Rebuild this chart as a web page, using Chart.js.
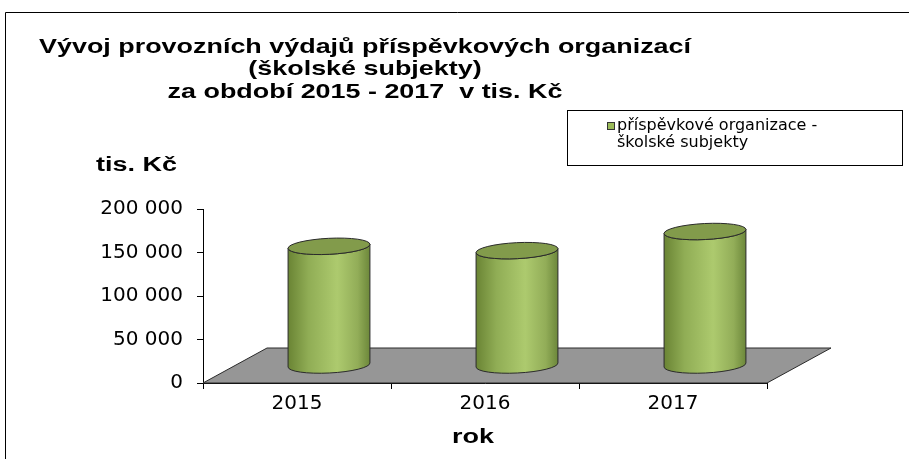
<!DOCTYPE html>
<html>
<head>
<meta charset="utf-8">
<script src="https://cdn.jsdelivr.net/npm/chart.js@4"></script>
<style>
  body { margin: 0; background: #fff; }
  canvas { display: block; }
</style>
</head>
<body>
<canvas id="vydaje" width="909" height="459"></canvas>
<script>
// data (tis. Kč)
const roky = ["2015", "2016", "2017"];
const vydaje = [137000, 132000, 154000];
const nadpis = ["Vývoj provozních výdajů příspěvkových organizací", "(školské subjekty)", "za období 2015 - 2017  v tis. Kč"];
const legendaText = ["příspěvkové organizace -", "školské subjekty"];
const osaY = "tis. Kč";
const osaX = "rok";

// 3D hloubka podlahy
const hloubkaX = 64;
const hloubkaY = 35;

// formát s mezerou po tisících
function formatTis(v) {
    return String(v).replace(/\B(?=(\d{3})+(?!\d))/g, " ");
}

// text roztažený vodorovně (originál je roztažený obrázek)
function natazenyText(ctx, text, x, y, sx, align) {
    ctx.save();
    ctx.translate(x, y);
    ctx.scale(sx, 1);
    ctx.textAlign = align;
    ctx.fillText(text, 0, 0);
    ctx.restore();
}

// podlaha grafu
const podlaha = {
    id: "podlaha",
    beforeDraw(chart) {
        const ctx = chart.ctx;
        ctx.save();
        ctx.fillStyle = "#fff";
        ctx.fillRect(0, 0, chart.width, chart.height);
        ctx.restore();
    },
    beforeDatasetsDraw(chart) {
        const ctx = chart.ctx;
        const x = chart.scales.x;
        const y0 = chart.scales.y.getPixelForValue(0);
        ctx.save();
        ctx.beginPath();
        ctx.moveTo(x.left, y0);
        ctx.lineTo(x.left + hloubkaX, y0 - hloubkaY);
        ctx.lineTo(x.right + hloubkaX, y0 - hloubkaY);
        ctx.lineTo(x.right, y0);
        ctx.closePath();
        ctx.fillStyle = "#969696";
        ctx.fill();
        ctx.strokeStyle = "#2a2a2a";
        ctx.lineWidth = 1;
        ctx.stroke();
        ctx.restore();
    }
};

// válce místo sloupců
const valce = {
    id: "valce",
    afterDatasetsDraw(chart) {
        const ctx = chart.ctx;
        const meta = chart.getDatasetMeta(0);
        const rot = -0.05;
        meta.data.forEach(bar => {
            const cx = bar.x + hloubkaX / 2;
            const top = bar.y - hloubkaY / 2;
            const base = bar.base - hloubkaY / 2;
            const rx = bar.width / 2;
            const ry = 8;
            const dx = rx * Math.cos(rot);
            const dy = rx * Math.sin(rot);

            const grad = ctx.createLinearGradient(cx - rx, 0, cx + rx, 0);
            grad.addColorStop(0, "#6a8434");
            grad.addColorStop(0.25, "#90ad55");
            grad.addColorStop(0.6, "#adca6e");
            grad.addColorStop(0.85, "#92ad58");
            grad.addColorStop(1, "#6c873a");

            ctx.save();
            // plášť
            ctx.beginPath();
            ctx.moveTo(cx - dx, top - dy);
            ctx.lineTo(cx - dx, base - dy);
            ctx.ellipse(cx, base, rx, ry, rot, Math.PI, 0, true);
            ctx.lineTo(cx + dx, top + dy);
            ctx.ellipse(cx, top, rx, ry, rot, 0, Math.PI, false);
            ctx.closePath();
            ctx.fillStyle = grad;
            ctx.fill();
            ctx.strokeStyle = "#2b2b2b";
            ctx.lineWidth = 1;
            ctx.stroke();
            // víko
            ctx.beginPath();
            ctx.ellipse(cx, top, rx, ry, rot, 0, Math.PI * 2);
            ctx.fillStyle = "#829b4b";
            ctx.fill();
            ctx.stroke();
            ctx.restore();
        });
    }
};

// nadpis, legenda, popisky os a rámeček
const popisky = {
    id: "popisky",
    afterDraw(chart) {
        const ctx = chart.ctx;
        ctx.save();
        // rámeček
        ctx.strokeStyle = "#000";
        ctx.lineWidth = 1;
        ctx.beginPath();
        ctx.moveTo(5.5, chart.height);
        ctx.lineTo(5.5, 12.5);
        ctx.lineTo(chart.width, 12.5);
        ctx.stroke();

        // nadpis
        ctx.fillStyle = "#000";
        ctx.textBaseline = "middle";
        ctx.font = "bold 21px 'Liberation Sans'";
        const sx = 652 / ctx.measureText(nadpis[0]).width;
        nadpis.forEach((t, i) => natazenyText(ctx, t, 365, 47 + i * 22.5, sx, "center"));

        // popisky os
        ctx.font = "bold 20px 'Liberation Sans'";
        const sy = 81 / ctx.measureText(osaY).width;
        natazenyText(ctx, osaY, 96, 165, sy, "left");
        natazenyText(ctx, osaX, 473, 437, sy, "center");

        // legenda
        ctx.fillStyle = "#fff";
        ctx.fillRect(567.5, 110.5, 335, 55);
        ctx.strokeStyle = "#000";
        ctx.strokeRect(567.5, 110.5, 335, 55);
        ctx.fillStyle = "#9bbb59";
        ctx.fillRect(607.5, 122.5, 7, 7);
        ctx.strokeStyle = "#333";
        ctx.strokeRect(607.5, 122.5, 7, 7);
        ctx.fillStyle = "#000";
        ctx.textAlign = "left";
        ctx.font = "16px 'DejaVu Sans'";
        legendaText.forEach((t, i) => ctx.fillText(t, 617, 126 + i * 17));
        ctx.restore();
    }
};

new Chart(document.getElementById("vydaje").getContext("2d"), {
    type: "bar",
    data: {
        labels: roky,
        datasets: [{
            label: legendaText.join(" "),
            data: vydaje,
            backgroundColor: "rgba(0,0,0,0)",
            borderWidth: 0,
            barPercentage: 0.436,
            categoryPercentage: 1
        }]
    },
    options: {
        responsive: false,
        animation: false,
        layout: { padding: { top: 209, right: 142, left: 0, bottom: 0 } },
        plugins: {
            legend: { display: false },
            title: { display: false },
            tooltip: { enabled: false }
        },
        scales: {
            x: {
                afterFit: s => { s.height = 76; },
                grid: { offset: true, drawOnChartArea: false, color: "#000", tickLength: 6 },
                border: { color: "#000" },
                ticks: { color: "#000", font: { family: "DejaVu Sans", size: 20 }, padding: 3 }
            },
            y: {
                min: 0,
                max: 200000,
                afterFit: s => { s.width = 203; },
                grid: { drawOnChartArea: false, color: "#000", tickLength: 6 },
                border: { color: "#000" },
                ticks: {
                    stepSize: 50000,
                    color: "#000",
                    padding: 14,
                    font: { family: "DejaVu Sans", size: 20 },
                    callback: v => formatTis(v)
                }
            }
        }
    },
    plugins: [podlaha, valce, popisky]
});
</script>
</body>
</html>
